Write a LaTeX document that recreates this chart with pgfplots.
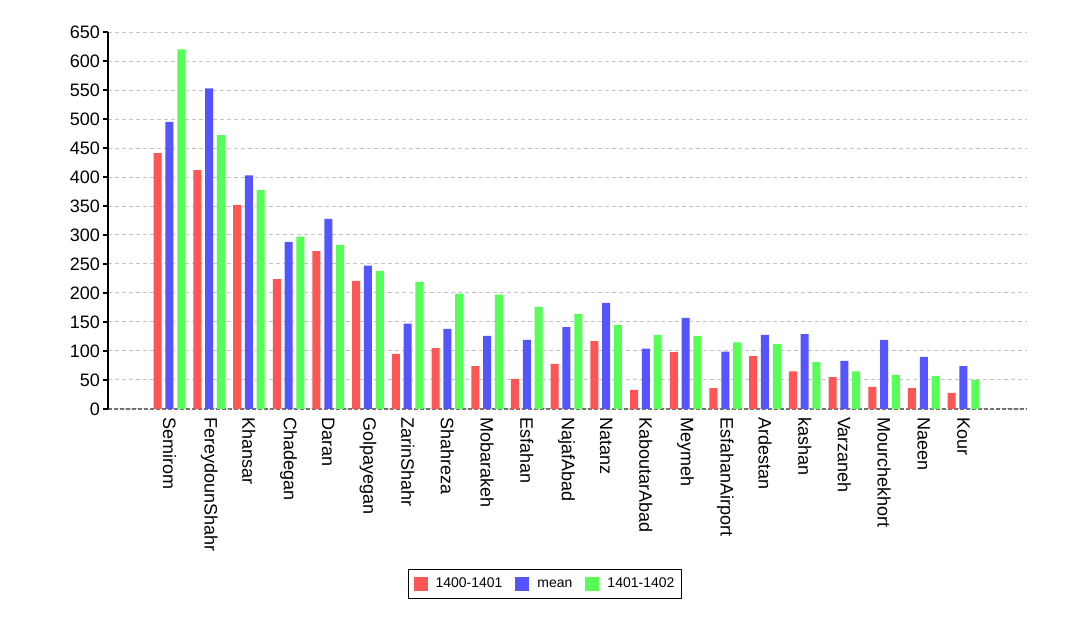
\documentclass[border=0pt]{standalone}
\usepackage{fontspec}
\setmainfont{Liberation Sans}
\usepackage{pgfplots}
\usepackage{pgfplotstable}
\pgfplotsset{compat=1.18}
\definecolor{cRed}{HTML}{FF5555}
\definecolor{cBlue}{HTML}{5555FF}
\definecolor{cGreen}{HTML}{55FF55}
\definecolor{cGrid}{HTML}{C4C4C4}
\pgfplotstableread{
x a m b
0 441 495 620
1 412 553 472
2 352 403 378
3 224 288 297
4 272 328 283
5 221 247 238
6 95 147 219
7 105 138 199
8 74 126 197
9 52 119 176
10 78 141 164
11 117 183 145
12 33 104 128
13 98 157 126
14 36 99 115
15 91 128 112
16 65 129 81
17 55 83 65
18 38 119 59
19 36 90 57
20 28 74 50
}\datatable
\begin{document}
\begin{tikzpicture}[x=1pt,y=1pt]
\path[use as bounding box] (0,0) rectangle (1080,618);
\begin{axis}[
  at={(108pt,209pt)}, anchor=south west,
  scale only axis, width=919pt, height=377pt,
  xmin=-1.549, xmax=21.6, ymin=0, ymax=650,
  ytick={0,50,...,650},
  xtick={0,...,20},
  xticklabels={Semirom,FereydounShahr,Khansar,Chadegan,Daran,Golpayegan,ZarinShahr,Shahreza,Mobarakeh,Esfahan,NajafAbad,Natanz,KaboutarAbad,Meymeh,EsfahanAirport,Ardestan,kashan,Varzaneh,Mourchekhort,Naeen,Kour},
  xticklabel style={rotate=-90, anchor=west, font=\fontsize{18}{21}\selectfont, inner sep=3pt},
  yticklabel style={font=\fontsize{18}{21}\selectfont, inner sep=3pt},
  /pgf/number format/assume math mode=true,
  axis x line*=bottom, axis y line*=left,
  x axis line style={-, draw=black!55, line width=1.5pt, dash pattern=on 4pt off 2pt},
  y axis line style={-, black, line width=2pt},
  xtick style={draw=none},
  ytick style={black, line width=1.5pt},
  tick align=outside, major tick length=5pt,
  ymajorgrids, grid style={cGrid, line width=1pt, dash pattern=on 4pt off 3pt},
  ybar=3.8pt, bar width=8pt,
  legend columns=3,
  legend style={at={(0.4755,-0.464)}, anchor=center, draw=black, line width=1.3pt,
    font=\fontsize{14}{17}\selectfont, inner xsep=5pt, inner ysep=6pt,
    nodes={text height=10pt, text depth=3pt},
    /tikz/every odd column/.append style={column sep=6pt},
    /tikz/every even column/.append style={column sep=11pt}},
  legend image code/.code={\fill[#1] (0pt,-7pt) rectangle (14pt,7pt);},
]
\addplot[fill=cRed, draw=none] table[x=x,y=a]{\datatable};
\addplot[fill=cBlue, draw=none] table[x=x,y=m]{\datatable};
\addplot[fill=cGreen, draw=none] table[x=x,y=b]{\datatable};
\legend{1400-1401,mean,1401-1402}
\end{axis}
\end{tikzpicture}
\end{document}
